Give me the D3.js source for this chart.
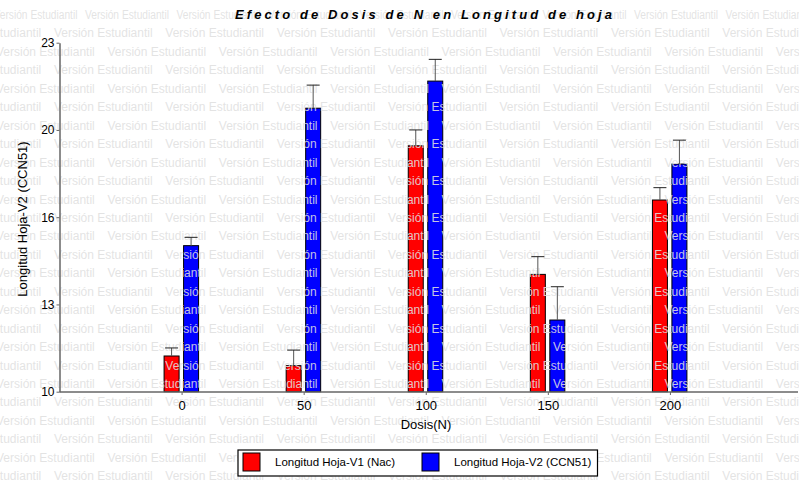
<!DOCTYPE html>
<html>
<head>
<meta charset="utf-8">
<script src="https://cdn.jsdelivr.net/npm/d3@7"></script>
<style>
  html, body { margin: 0; padding: 0; background: #fff; }
  svg { display: block; font-family: "Liberation Sans", Arial, sans-serif; }
</style>
</head>
<body>
<svg id="chart" width="799" height="484"></svg>
<script>
// Nitrogen dose (categories) and mean leaf length per variety
const doses = ["0", "50", "100", "150", "200"];
const v1Mean = [11.33, 10.97, 19.16, 14.37, 17.14];   // Longitud Hoja-V1 (Nac)
const v1Err  = [0.30, 0.58, 0.59, 0.66, 0.46];
const v2Mean = [15.44, 20.56, 21.57, 12.67, 18.48];   // Longitud Hoja-V2 (CCN51)
const v2Err  = [0.31, 0.86, 0.81, 1.24, 0.89];
const seriesNames = ["Longitud Hoja-V1 (Nac)", "Longitud Hoja-V2 (CCN51)"];
const yTickValues = [10, 13.25, 16.5, 19.75, 23];
const yTickLabels = ["10", "13", "16", "20", "23"];

const colors = ["#ff0000", "#0000ff"];
const svg = d3.select("#chart");
const W = 799, H = 484;

const x = d3.scalePoint().domain(doses).range([59.5, 792]).padding(1);
const y = d3.scaleLinear().domain([10, 23]).range([391.7, 42.7]);

const barW = 15;
const series = [
  { mean: v1Mean, err: v1Err, color: colors[0], dx: -17.5 },
  { mean: v2Mean, err: v2Err, color: colors[1], dx: 2 }
];

// Bars
const gBars = svg.append("g");
series.forEach(s => {
  gBars.selectAll(null)
    .data(doses)
    .enter().append("rect")
    .attr("x", (d) => x(d) + s.dx)
    .attr("y", (d, i) => y(s.mean[i]))
    .attr("width", barW)
    .attr("height", (d, i) => y(10) - y(s.mean[i]))
    .attr("fill", s.color)
    .attr("stroke", "#000")
    .attr("stroke-width", 1);
});

// "Versión Estudiantil" background stamp, repeated over the whole canvas
const gMark = svg.append("g")
  .attr("font-size", 12)
  .attr("fill", "rgb(224,224,224)")
  .attr("fill-opacity", 0.88);
const rowStep = 18.45, nRows = 26;
for (let r = 0; r < nRows; r++) {
  const cy = 15 + r * rowStep;
  const first = r === 0;
  const period = first ? 91.5 : 111.4;
  const offset = first ? -6.5 : (r % 2 === 0 ? -4 : -57.5);
  for (let px = offset; px < W; px += period) {
    const t = gMark.append("text")
      .attr("x", px)
      .attr("y", cy + 4)
      .text("Versión Estudiantil");
    if (first) t.attr("textLength", 84).attr("lengthAdjust", "spacingAndGlyphs");
  }
}

// Error bars (upper whisker only)
const gErr = svg.append("g");
series.forEach(s => {
  doses.forEach((d, i) => {
    const cx = x(d) + s.dx + barW / 2;
    const top = y(s.mean[i] + s.err[i]);
    gErr.append("line")
      .attr("x1", cx).attr("x2", cx)
      .attr("y1", y(s.mean[i])).attr("y2", top)
      .attr("stroke", "#555").attr("stroke-width", 1);
    gErr.append("line")
      .attr("x1", cx - 6.5).attr("x2", cx + 6.5)
      .attr("y1", top).attr("y2", top)
      .attr("stroke", "#222").attr("stroke-width", 1);
  });
});

// Axes
const yAxis = d3.axisLeft(y)
  .tickValues(yTickValues)
  .tickFormat((d, i) => yTickLabels[i])
  .tickSize(3).tickSizeOuter(0);
const gy = svg.append("g").attr("transform", "translate(59.5,0)").call(yAxis);
gy.select(".domain").attr("stroke", "#666").attr("stroke-width", 1.5);
gy.selectAll(".tick line").attr("stroke", "#666");
gy.selectAll(".tick text").attr("font-size", 12).attr("fill", "#000")
  .attr("font-family", "Liberation Sans, Arial, sans-serif").attr("dx", 1);

const xAxis = d3.axisBottom(x).tickSize(3).tickSizeOuter(0);
const gx = svg.append("g").attr("transform", "translate(0,392)").call(xAxis);
gx.select(".domain").remove();
gx.append("line").attr("x1", 59.5).attr("x2", 798).attr("y1", 0).attr("y2", 0)
  .attr("stroke", "#666").attr("stroke-width", 1.5);
gx.selectAll(".tick line").attr("stroke", "#666");
gx.selectAll(".tick text").attr("font-size", 13).attr("fill", "#000")
  .attr("font-family", "Liberation Sans, Arial, sans-serif").attr("dy", "0.95em");

// Titles
svg.append("text")
  .attr("x", 235).attr("y", 19)
  .attr("font-size", 13).attr("font-weight", "bold").attr("font-style", "italic")
  .attr("textLength", 377).attr("lengthAdjust", "spacing")
  .text("Efecto de Dosis de N en Longitud de hoja");

svg.append("text")
  .attr("x", 426).attr("y", 429)
  .attr("text-anchor", "middle").attr("font-size", 13)
  .text("Dosis(N)");

svg.append("text")
  .attr("transform", "translate(27,219) rotate(-90)")
  .attr("text-anchor", "middle").attr("font-size", 13)
  .text("Longitud Hoja-V2 (CCN51)");

// Legend
const gLeg = svg.append("g");
gLeg.append("rect")
  .attr("x", 238).attr("y", 450).attr("width", 359.5).attr("height", 26)
  .attr("fill", "#fff").attr("stroke", "#000").attr("stroke-width", 1.2);
const legX = [243, 422];
seriesNames.forEach((name, i) => {
  gLeg.append("rect")
    .attr("x", legX[i]).attr("y", 453).attr("width", 17).attr("height", 18)
    .attr("fill", colors[i]).attr("stroke", "#000");
  gLeg.append("text")
    .attr("x", legX[i] + 32).attr("y", 465.5)
    .attr("font-size", 11.5)
    .text(name);
});
</script>
</body>
</html>
